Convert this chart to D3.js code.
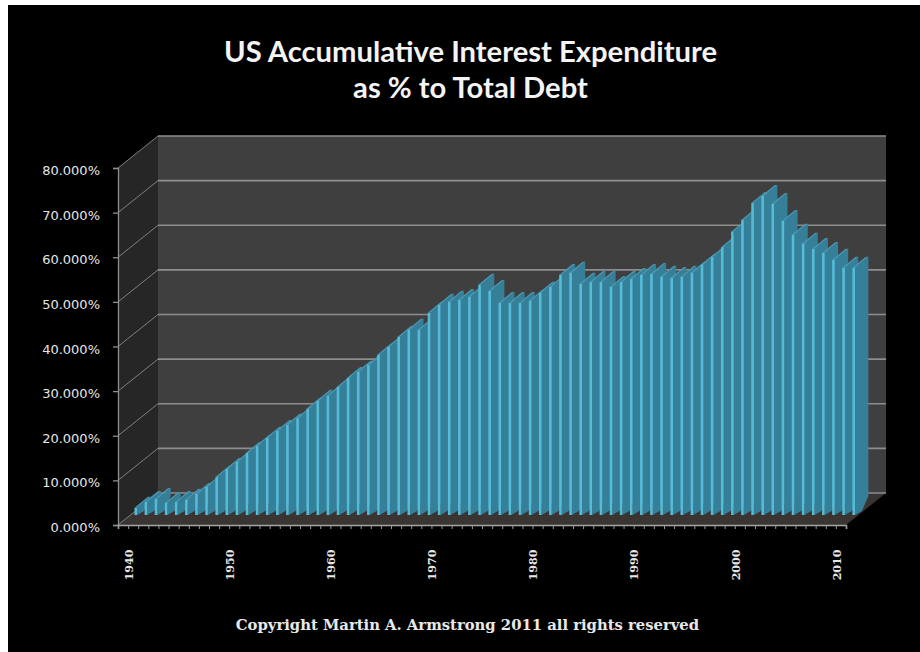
<!DOCTYPE html>
<html>
<head>
<meta charset="utf-8">
<title>US Accumulative Interest Expenditure as % to Total Debt</title>
<script src="https://cdnjs.cloudflare.com/ajax/libs/d3/7.8.5/d3.min.js"></script>
<style>
html,body{margin:0;padding:0;background:#fff;}
svg{display:block;}
</style>
</head>
<body>
<svg id="chart" width="920" height="652"></svg>
<script>
// Accumulative interest expenditure as a percentage of total debt, 1940-2011
const years = d3.range(1940, 2012);
const shares = [
  1.6, 2.9, 3.6, 2.7, 2.9, 3.4, 4.7, 6.3, 8.5, 10.3,
  11.9, 13.9, 15.5, 17.3, 18.8, 20.2, 21.7, 23.8, 25.6, 26.7,
  28.7, 30.7, 32.1, 33.6, 35.9, 37.7, 39.9, 41.5, 41.5, 45.3,
  47.1, 47.8, 48.2, 48.9, 51.6, 50.2, 47.5, 47.5, 47.5, 48.0,
  49.8, 51.1, 53.8, 54.3, 51.8, 52.2, 52.2, 51.1, 52.2, 52.9,
  53.8, 54.0, 53.4, 53.1, 53.4, 54.3, 56.1, 57.8, 60.0, 63.5,
  66.1, 69.9, 71.5, 69.7, 65.9, 62.8, 60.8, 59.6, 58.7, 57.2,
  55.4, 55.4
];
const yTicks = [0, 10, 20, 30, 40, 50, 60, 70, 80];
const decades = [1940, 1950, 1960, 1970, 1980, 1990, 2000, 2010];
const titleLines = ["US Accumulative Interest Expenditure", "as % to Total Debt"];
const copyright = "Copyright Martin A. Armstrong 2011 all rights reserved";

const svg = d3.select("#chart");

// Front plane of the 3D box, and how far the back wall is shifted from it
const plot = {left: 118, right: 846, top: 168, bottom: 525};
const wall = {dx: 40, dy: -32};
// Columns stand part-way into the box
const columnShift = {dx: 16.5, dy: -10};
const face = {width: 2.6, depthX: 13.4, depthY: -11, baseY: -19};

const y = d3.scaleLinear().domain([0, 80]).range([plot.bottom, plot.top]);
const x = d3.scaleBand().domain(years).range([plot.left, plot.right]);
const xEdge = d3.scaleLinear().domain([1940, 2012]).range([plot.left, plot.right]);
const poly = pts => pts.map(p => p.join(",")).join(" ");

// Paper and black chart area
svg.append("rect").attr("x", 8).attr("y", 5).attr("width", 912).attr("height", 647).attr("fill", "#000");

// Box: back wall, left wall, floor
svg.append("polygon").attr("fill", "#3f3f3f").attr("points", poly([
  [plot.left + wall.dx, y(80) + wall.dy], [plot.right + wall.dx, y(80) + wall.dy],
  [plot.right + wall.dx, y(0) + wall.dy], [plot.left + wall.dx, y(0) + wall.dy]
]));
svg.append("polygon").attr("fill", "#262626").attr("points", poly([
  [plot.left, y(80)], [plot.left + wall.dx, y(80) + wall.dy],
  [plot.left + wall.dx, y(0) + wall.dy], [plot.left, y(0)]
]));
svg.append("polygon").attr("fill", "#3a3533").attr("points", poly([
  [plot.left, y(0)], [plot.right, y(0)],
  [plot.right + wall.dx, y(0) + wall.dy], [plot.left + wall.dx, y(0) + wall.dy]
]));

// Gridlines: fine on the left wall, heavier across the back wall
const grid = svg.append("g").attr("fill", "none");
grid.selectAll("line.side").data(yTicks).join("line").attr("class", "side")
  .attr("stroke", "#808080").attr("stroke-width", 1)
  .attr("x1", plot.left).attr("y1", d => y(d))
  .attr("x2", plot.left + wall.dx).attr("y2", d => y(d) + wall.dy);
grid.selectAll("line.back").data(yTicks).join("line").attr("class", "back")
  .attr("stroke", "#8e8e8e").attr("stroke-width", 1.7)
  .attr("x1", plot.left + wall.dx).attr("y1", d => y(d) + wall.dy)
  .attr("x2", plot.right + wall.dx).attr("y2", d => y(d) + wall.dy);

// Columns, painted left to right so each one overlaps its neighbour's side
const columns = svg.append("g").selectAll("g")
  .data(years.map((year, i) => ({year, value: shares[i]})))
  .join("g");

const fx = d => x(d.year) + columnShift.dx;
const topY = d => y(d.value) + columnShift.dy;
const baseY = y(0) + columnShift.dy;

columns.append("polygon").attr("fill", "#367f99").attr("points", d => {
  const r = fx(d) + face.width;
  return poly([
    [r, topY(d)], [r + face.depthX, topY(d) + face.depthY],
    [r + face.depthX, baseY + face.baseY], [r + 7, baseY - 4], [r, baseY]
  ]);
});
columns.append("polygon").attr("fill", "#4696b1").attr("points", d => {
  const l = fx(d), t = topY(d);
  return poly([
    [l, t], [l + face.width, t],
    [l + face.width + face.depthX, t + face.depthY], [l + face.depthX, t + face.depthY]
  ]);
});
columns.append("rect").attr("fill", "#55bcd8")
  .attr("x", fx).attr("y", topY)
  .attr("width", face.width).attr("height", d => baseY - topY(d));

// Value axis
const yAxis = svg.append("g").attr("transform", `translate(${plot.left},0)`)
  .call(d3.axisLeft(y).tickValues(yTicks).tickSize(5).tickPadding(13)
    .tickFormat(d => d3.format(".3f")(d) + "%"));
yAxis.select(".domain").attr("stroke", "#8f8f8f").attr("stroke-width", 1.3);
yAxis.selectAll("line").attr("stroke", "#8f8f8f").attr("stroke-width", 1.3);
yAxis.selectAll("text").attr("fill", "#e6e6e6").attr("dy", "0.5em")
  .attr("font-family", "'DejaVu Sans'").attr("font-size", 13);

// Year axis: a tick on every column boundary, labels on the decades
const xTicks = svg.append("g").attr("transform", `translate(0,${plot.bottom})`)
  .call(d3.axisBottom(xEdge).tickValues(d3.range(1940, 2013)).tickSize(4).tickFormat(""));
xTicks.select(".domain").attr("stroke", "#a5a5a5").attr("stroke-width", 1.6);
xTicks.selectAll("line").attr("stroke", "#9a9a9a");

const xLabels = svg.append("g").selectAll("text").data(decades).join("text")
  .attr("transform", d => `translate(${x(d) + x.bandwidth() / 2 + 6},565) rotate(-90)`)
  .attr("text-anchor", "middle").attr("dy", "0.35em")
  .attr("fill", "#e6e6e6").attr("font-family", "'DejaVu Serif'")
  .attr("font-weight", "bold").attr("font-size", 11)
  .text(d => d);

// Title and copyright line
svg.append("g").selectAll("text").data(titleLines).join("text")
  .attr("x", 470.5).attr("y", (d, i) => 62 + i * 36)
  .attr("text-anchor", "middle").attr("fill", "#f4f4f4")
  .attr("font-family", "Lato").attr("font-weight", "bold").attr("font-size", 29.2)
  .text(d => d);

svg.append("text").attr("x", 467.5).attr("y", 629.5)
  .attr("text-anchor", "middle").attr("fill", "#e8e8e8")
  .attr("font-family", "'DejaVu Serif'").attr("font-weight", "bold").attr("font-size", 14.8)
  .text(copyright);
</script>
</body>
</html>
